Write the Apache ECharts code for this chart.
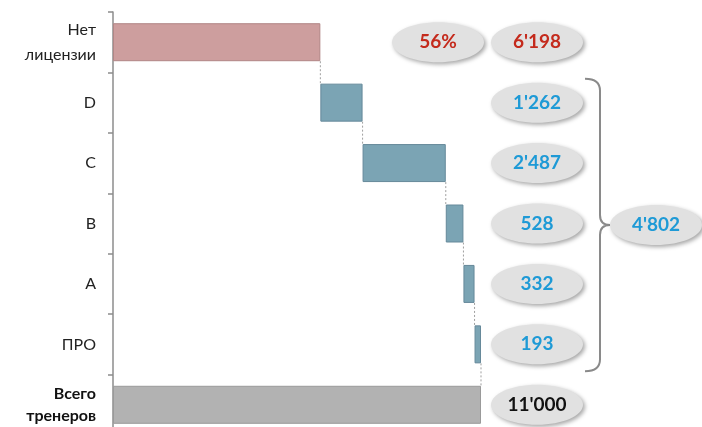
<!DOCTYPE html>
<html>
<head>
<meta charset="utf-8">
<script src="https://cdn.jsdelivr.net/npm/echarts@6/dist/echarts.min.js"></script>
<style>
html, body { margin: 0; padding: 0; background: #fff; }
#chart { width: 702px; height: 427px; }
</style>
</head>
<body>
<div id="chart"></div>
<script>
// категории сверху вниз
const categories = ['Нет\nлицензии', 'D', 'C', 'B', 'A', 'ПРО', 'Всего\nтренеров'];
const values = [6198, 1262, 2487, 528, 332, 193, 11000];
const barColors = ['#CD9E9E', '#7BA4B4', '#7BA4B4', '#7BA4B4', '#7BA4B4', '#7BA4B4', '#B2B2B2'];
const borderColors = ['#B28686', '#66899A', '#66899A', '#66899A', '#66899A', '#66899A', '#9A9A9A'];
const textColors = ['#C42A1C', '#1E9AD6', '#1E9AD6', '#1E9AD6', '#1E9AD6', '#1E9AD6', '#111111'];
const licensedIdx = [1, 2, 3, 4, 5];

const fmt = v => String(v).replace(/\B(?=(\d{3})+(?!\d))/g, "'");

// невидимое основание водопада
const base = [];
let acc = 0;
values.forEach((v, i) => {
    if (i === values.length - 1) { base.push(0); return; }
    base.push(acc);
    acc += v;
});
const licensedTotal = licensedIdx.reduce((s, i) => s + values[i], 0);
const share = Math.round(values[0] / values[values.length - 1] * 100);

const BAR_H = 38;
const chart = echarts.init(document.getElementById('chart'));

const ellipse = (cx, cy, text, color) => ({
    type: 'ellipse',
    shape: { cx: cx, cy: cy, rx: 46, ry: 20 },
    style: {
        fill: '#E1E1E1',
        shadowBlur: 4, shadowOffsetX: 2, shadowOffsetY: 2,
        shadowColor: 'rgba(0,0,0,0.35)'
    },
    textContent: {
        style: { text: text, fill: color, font: 'bold 19px Lato', align: 'center', verticalAlign: 'middle' }
    },
    textConfig: { position: 'inside' }
});

chart.setOption({
    animation: false,
    grid: { left: 113, width: 368, top: 12, height: 423, outerBoundsMode: 'none', containLabel: false },
    xAxis: { type: 'value', min: 0, max: 11000, show: false },
    yAxis: {
        type: 'category',
        inverse: true,
        data: categories,
        axisLine: { lineStyle: { color: '#8C8C8C', width: 1.5 } },
        axisTick: { show: true, length: 5, lineStyle: { color: '#8C8C8C', width: 1.5 } },
        axisLabel: {
            margin: 17,
            fontFamily: 'Lato',
            fontSize: 16,
            color: '#222',
            lineHeight: 25,
            formatter: (v, i) => i === categories.length - 1 ? '{b|' + v.replace('\n', '}\n{b|') + '}' : v,
            rich: { b: { fontWeight: 'bold', fontFamily: 'Lato', fontSize: 16, color: '#111', lineHeight: 22 } }
        }
    },
    series: [
        {
            type: 'bar', stack: 'w', silent: true,
            itemStyle: { color: 'transparent' },
            data: base
        },
        {
            type: 'bar', stack: 'w', barWidth: BAR_H,
            data: values.map((v, i) => ({
                value: v,
                itemStyle: { color: barColors[i], borderColor: borderColors[i], borderWidth: 1 }
            }))
        },
        {
            // пунктирные соединители
            type: 'custom', silent: true,
            data: values.slice(0, -1).map((v, i) => [base[i] + v, i]),
            renderItem: (params, api) => {
                const i = api.value(1);
                const p1 = api.coord([api.value(0), i]);
                const p2 = api.coord([api.value(0), i + 1]);
                return {
                    type: 'line',
                    shape: { x1: p1[0], y1: p1[1] + BAR_H / 2, x2: p2[0], y2: p2[1] - BAR_H / 2 },
                    style: { stroke: '#A0A0A0', lineWidth: 1, lineDash: [2, 2] }
                };
            }
        },
        {
            // овалы со значениями
            type: 'custom', silent: true,
            data: values.map((v, i) => [v, i]),
            renderItem: (params, api) => {
                const i = api.value(1);
                const y = api.coord([0, i])[1];
                const children = [ellipse(537, y, fmt(values[i]), textColors[i])];
                if (i === 0) children.push(ellipse(438, y, share + '%', textColors[0]));
                return { type: 'group', children: children };
            }
        },
        {
            // фигурная скобка и сумма лицензий
            type: 'custom', silent: true,
            data: [[licensedTotal, licensedIdx[0], licensedIdx[licensedIdx.length - 1]]],
            renderItem: (params, api) => {
                const yTop = api.coord([0, api.value(1)])[1] - 24;
                const yBot = api.coord([0, api.value(2)])[1] + 27;
                const yMid = (yTop + yBot) / 2;
                const x = 600;
                const d = 'M585,' + yTop + ' Q' + x + ',' + yTop + ' ' + x + ',' + (yTop + 12) +
                    ' L' + x + ',' + (yMid - 10) + ' Q' + x + ',' + yMid + ' ' + (x + 10) + ',' + yMid +
                    ' Q' + x + ',' + yMid + ' ' + x + ',' + (yMid + 10) +
                    ' L' + x + ',' + (yBot - 12) + ' Q' + x + ',' + yBot + ' 585,' + yBot;
                return {
                    type: 'group',
                    children: [
                        { type: 'path', shape: { pathData: d }, style: { fill: 'none', stroke: '#8A8A8A', lineWidth: 2 } },
                        ellipse(656, yMid, fmt(api.value(0)), textColors[1])
                    ]
                };
            }
        }
    ]
});
</script>
</body>
</html>
